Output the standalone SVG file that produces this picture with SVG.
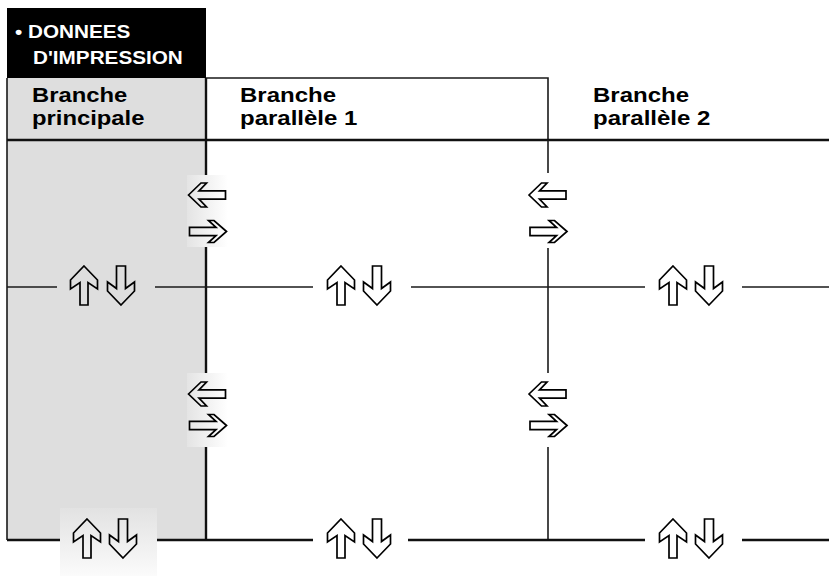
<svg xmlns="http://www.w3.org/2000/svg" xmlns:xlink="http://www.w3.org/1999/xlink" width="829" height="576" viewBox="0 0 829 576">
  <style>
    .hdr { font-family: "Liberation Sans", Arial, sans-serif; font-weight: bold; font-size: 19px; fill: #ffffff; }
    .lbl { font-family: "Liberation Sans", Arial, sans-serif; font-weight: bold; font-size: 20px; fill: #000000; }
    .ln { stroke: #1a1a1a; stroke-width: 1.6; fill: none; }
    .thick { stroke: #111111; stroke-width: 2.4; fill: none; }
    .arr { stroke: #000000; stroke-width: 1.7; fill: none; stroke-linejoin: miter; }
  </style>
  <defs>
    <!-- hollow arrows, centred on the origin -->
    <path id="up" d="M0,-19.5 L13.5,-5.5 L13.5,3.5 L4,-3 L4,19.5 L-4,19.5 L-4,-3 L-13.5,3.5 L-13.5,-5.5 Z"/>
    <path id="down" d="M0,19.5 L13.5,5.5 L13.5,-3.5 L4.5,3 L4.5,-19.5 L-4.5,-19.5 L-4.5,3 L-13.5,-3.5 L-13.5,5.5 Z"/>
    <path id="left" d="M-18.5,0 L-6,-12 L-0.5,-12 L-8,-4.2 L18.5,-4.2 L18.5,4.2 L-8,4.2 L-0.5,12 L-6,12 Z"/>
    <path id="right" d="M18.5,0 L6,-11 L0.5,-11 L8,-4.2 L-18.5,-4.2 L-18.5,4.2 L8,4.2 L0.5,11 L6,11 Z"/>
    <linearGradient id="fadeH" x1="0" y1="0" x2="1" y2="0">
      <stop offset="0" stop-color="#e4e4e4"/>
      <stop offset="1" stop-color="#ffffff"/>
    </linearGradient>
    <linearGradient id="fadeV" x1="0" y1="0" x2="0" y2="1">
      <stop offset="0" stop-color="#e2e2e2"/>
      <stop offset="1" stop-color="#fbfbfb"/>
    </linearGradient>
  </defs>

  <rect width="829" height="576" fill="#ffffff"/>

  <!-- main branch column -->
  <g id="main-branch">
    <rect x="7" y="78" width="199" height="462" fill="#dedede"/>
    <rect x="187" y="175" width="41" height="72" fill="url(#fadeH)"/>
    <rect x="187" y="373" width="41" height="74" fill="url(#fadeH)"/>
    <rect x="60" y="508" width="97" height="68" fill="url(#fadeV)"/>
    <line class="ln" x1="7" y1="78" x2="7" y2="540"/>
    <text class="lbl" transform="translate(32,101.5) scale(1.19,1)">Branche</text>
    <text class="lbl" transform="translate(32,125) scale(1.19,1)">principale</text>
  </g>

  <!-- print data header -->
  <g id="print-data">
    <rect x="7" y="8" width="199" height="70" fill="#000000"/>
    <text class="hdr" transform="translate(15,38) scale(1.09,1)">• DONNEES</text>
    <text class="hdr" transform="translate(33,64) scale(1.09,1)">D'IMPRESSION</text>
  </g>

  <g id="branch-1">
    <text class="lbl" transform="translate(240,101.5) scale(1.2,1)">Branche</text>
    <text class="lbl" transform="translate(240,125) scale(1.2,1)">parallèle 1</text>
  </g>

  <g id="branch-2">
    <text class="lbl" transform="translate(593,101.5) scale(1.2,1)">Branche</text>
    <text class="lbl" transform="translate(593,125) scale(1.2,1)">parallèle 2</text>
  </g>

  <!-- grid lines -->
  <g id="connectors">
    <polyline class="ln" points="206,78 548,78 548,140"/>
    <line class="thick" x1="7" y1="140" x2="829" y2="140"/>
    <!-- branch boundaries -->
    <line class="thick" x1="206" y1="78" x2="206" y2="175"/>
    <line class="thick" x1="206" y1="247" x2="206" y2="373"/>
    <line class="thick" x1="206" y1="447" x2="206" y2="540"/>
    <line class="ln" x1="548" y1="140" x2="548" y2="173"/>
    <line class="ln" x1="548" y1="248" x2="548" y2="373"/>
    <line class="ln" x1="548" y1="447" x2="548" y2="540"/>
    <!-- middle level -->
    <line class="ln" x1="7" y1="287" x2="57" y2="287"/>
    <line class="ln" x1="155" y1="287" x2="313" y2="287"/>
    <line class="ln" x1="411" y1="287" x2="645" y2="287"/>
    <line class="ln" x1="742" y1="287" x2="829" y2="287"/>
    <!-- bottom level -->
    <line class="thick" x1="7" y1="540" x2="60" y2="540"/>
    <line class="thick" x1="157" y1="540" x2="313" y2="540"/>
    <line class="thick" x1="408" y1="540" x2="645" y2="540"/>
    <line class="thick" x1="742" y1="540" x2="829" y2="540"/>
  </g>

  <!-- transfer arrows -->
  <g id="arrows-mid">
    <use href="#up" class="arr" x="84" y="285.5"/>
    <use href="#down" class="arr" x="121" y="285.5"/>
    <use href="#up" class="arr" x="341" y="285.5"/>
    <use href="#down" class="arr" x="377" y="285.5"/>
    <use href="#up" class="arr" x="673" y="285.5"/>
    <use href="#down" class="arr" x="709" y="285.5"/>
  </g>
  <g id="arrows-bottom">
    <use href="#up" class="arr" x="87" y="538.5"/>
    <use href="#down" class="arr" x="123" y="538.5"/>
    <use href="#up" class="arr" x="341" y="538.5"/>
    <use href="#down" class="arr" x="377" y="538.5"/>
    <use href="#up" class="arr" x="673" y="538.5"/>
    <use href="#down" class="arr" x="709" y="538.5"/>
  </g>
  <g id="arrows-side">
    <use href="#left" class="arr" x="207" y="195"/>
    <use href="#right" class="arr" x="208" y="231.5"/>
    <use href="#left" class="arr" x="207" y="394"/>
    <use href="#right" class="arr" x="208" y="425.5"/>
    <use href="#left" class="arr" x="547.5" y="195"/>
    <use href="#right" class="arr" x="548.5" y="231.5"/>
    <use href="#left" class="arr" x="547.5" y="394"/>
    <use href="#right" class="arr" x="548.5" y="425.5"/>
  </g>
</svg>
